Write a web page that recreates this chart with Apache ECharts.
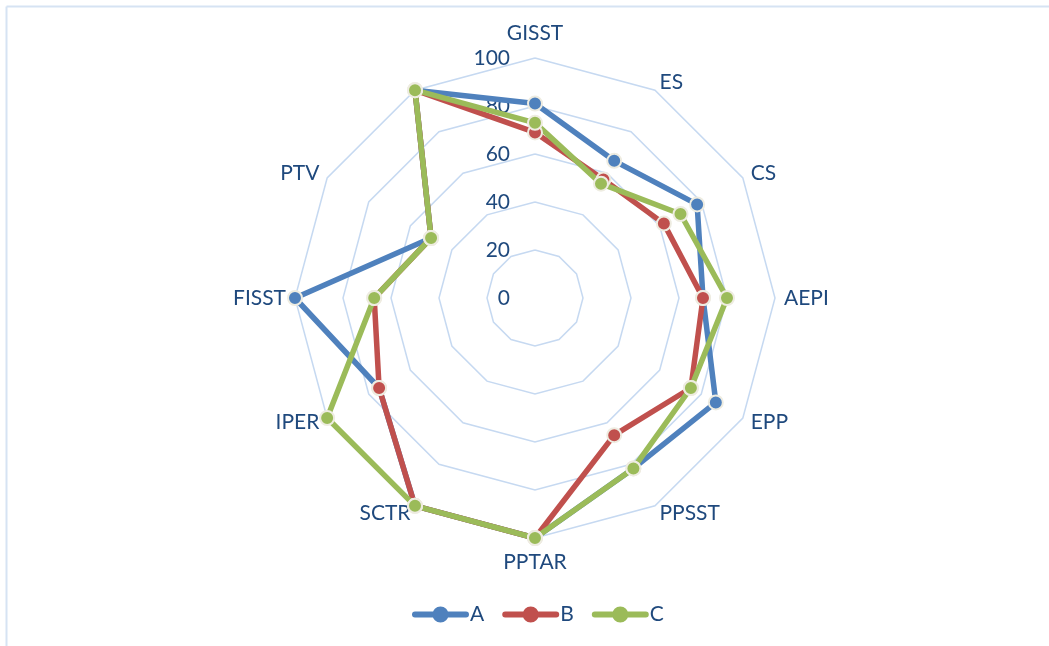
<!DOCTYPE html>
<html>
<head>
<meta charset="utf-8">
<script src="https://cdn.jsdelivr.net/npm/echarts@6/dist/echarts.min.js"></script>
<style>
html,body{margin:0;padding:0;background:#fff;}
#chart{width:1049px;height:646px;}
</style>
</head>
<body>
<div id="chart"></div>
<script>
var categories = ['GISST', 'ES', 'CS', 'AEPI', 'EPP', 'PPSST', 'PPTAR', 'SCTR', 'IPER', 'FISST', 'PTV', ''];
var seriesNames = ['A', 'B', 'C'];
var valuesA = [81, 66, 78, 70, 87, 82, 100, 100, 75, 100, 50, 100];
var valuesB = [69, 57, 62, 70, 75, 66, 100, 100, 75, 67, 50, 100];
var valuesC = [73, 55, 70, 80, 75, 82, 100, 100, 100, 67, 50, 100];
var axisMax = 100;
var colors = ['#4F81BD', '#C0504D', '#9BBB59'];

var textColor = '#1F497D';
var font = 'Lato, "Open Sans", sans-serif';

// ECharts radar runs counter-clockwise; reorder so categories run clockwise from the top.
var order = [0];
for (var k = categories.length - 1; k >= 1; k--) order.push(k);
function reorder(arr) { return order.map(function (i) { return arr[i]; }); }

var indicators = reorder(categories).map(function (c, i) {
  var ind = { name: c, min: 0, max: axisMax };
  if (i === 0) {
    ind.axisLabel = { show: true };
  }
  return ind;
});

var allValues = [valuesA, valuesB, valuesC];
var legendIcon = 'path://M3,5 L54,5 A3,3 0 0,1 54,11 L3,11 A3,3 0 0,1 3,5 Z M28.5,0 A8,8 0 1,1 28.49,0 Z';

var chart = echarts.init(document.getElementById('chart'), null, { renderer: 'canvas' });
chart.setOption({
  backgroundColor: '#ffffff',
  animation: false,
  textStyle: { fontFamily: font },
  graphic: [
    { type: 'line', shape: { x1: 6.5, y1: 6.5, x2: 1049, y2: 6.5 }, style: { stroke: '#D6E3F3', lineWidth: 2 } },
    { type: 'line', shape: { x1: 6.5, y1: 6.5, x2: 6.5, y2: 646 }, style: { stroke: '#D6E3F3', lineWidth: 2 } }
  ],
  legend: {
    data: seriesNames,
    left: 407,
    top: 599,
    itemWidth: 57,
    itemHeight: 16,
    itemGap: 18,
    icon: legendIcon,
    itemStyle: { borderWidth: 0 },
    textStyle: { color: textColor, fontSize: 21, fontFamily: font, padding: [0, 0, 0, -4] }
  },
  radar: {
    center: [535, 298],
    radius: 240,
    startAngle: 90,
    splitNumber: 5,
    shape: 'polygon',
    indicator: indicators,
    axisName: { color: textColor, fontSize: 21, fontFamily: font, padding: [5, 0] },
    nameGap: 9,
    axisLine: { show: false },
    axisTick: { show: false },
    axisLabel: { show: false, color: textColor, fontSize: 21, fontFamily: font, margin: 25 },
    splitLine: { lineStyle: { color: '#C6D9F1', width: 1.5 } },
    splitArea: { show: false }
  },
  series: [{
    type: 'radar',
    symbol: 'circle',
    symbolSize: 14,
    data: allValues.map(function (vals, i) {
      return {
        name: seriesNames[i],
        value: reorder(vals),
        lineStyle: { color: colors[i], width: 5.5 },
        itemStyle: { color: colors[i], borderColor: '#EEECE1', borderWidth: 2 }
      };
    })
  }]
});
</script>
</body>
</html>
